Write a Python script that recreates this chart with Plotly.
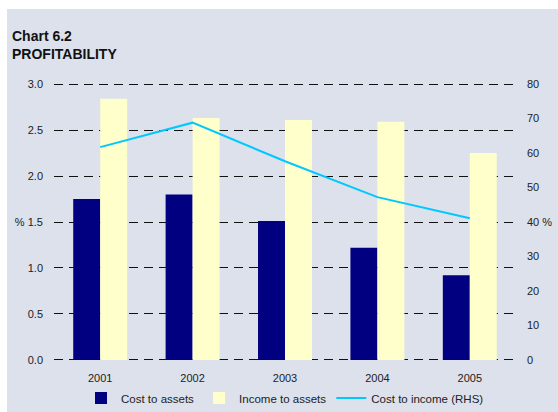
import plotly.graph_objects as go

# Profitability indicators by year
years = ["2001", "2002", "2003", "2004", "2005"]
cost_to_assets = [1.75, 1.80, 1.51, 1.22, 0.92]      # % (LHS)
income_to_assets = [2.84, 2.63, 2.61, 2.59, 2.25]    # % (LHS)
cost_to_income = [61.7, 68.8, 57.6, 47.2, 41.1]      # % (RHS)

left_ticks = [0, 0.5, 1.0, 1.5, 2.0, 2.5, 3.0]
left_labels = ["0.0", "0.5", "1.0", "% 1.5", "2.0", "2.5", "3.0"]
right_ticks = [0, 10, 20, 30, 40, 50, 60, 70, 80]
right_labels = ["0", "10", "20", "30", "40 %", "50", "60", "70", "80"]

W, H = 558, 412
ML, MR, MT, MB = 54, 42, 82, 50
PW, PH = W - ML - MR, H - MT - MB

BG = "#DCE1EC"
FONT = "Liberation Sans, Arial, sans-serif"

# padding so the gridlines at 0 and 3 sit inside the plot area
EPS = 0.022
left_range = [-EPS, 3 + EPS]
right_range = [-EPS * 80 / 3, 80 + EPS * 80 / 3]

fig = go.Figure()
fig.add_trace(go.Bar(x=years, y=cost_to_assets, name="Cost to assets",
                     marker=dict(color="#000080", line=dict(width=0))))
fig.add_trace(go.Bar(x=years, y=income_to_assets, name="Income to assets",
                     marker=dict(color="#FFFFCC", line=dict(width=0))))
fig.add_trace(go.Scatter(x=years, y=cost_to_income, name="Cost to income (RHS)",
                         mode="lines", yaxis="y2",
                         line=dict(color="#00C8FF", width=2)))

def px_x(p):
    return (p - ML) / PW

def px_y(p):
    return (H - MB - p) / PH

fig.update_layout(
    width=W, height=H,
    margin=dict(l=ML, r=MR, t=MT, b=MB, pad=0, autoexpand=False),
    paper_bgcolor="white",
    plot_bgcolor=BG,
    font=dict(family=FONT, size=11, color="#222222"),
    barmode="group", bargap=0.416, bargroupgap=0,
    showlegend=True,
    legend=dict(orientation="h", x=0.5, xanchor="center", xref="paper",
                y=1 - 398 / H, yanchor="middle", yref="container",
                bgcolor="rgba(0,0,0,0)", font=dict(size=11.5),
                itemwidth=30, tracegroupgap=0),
    xaxis=dict(showgrid=False, zeroline=False, showline=False, ticks="",
               ticklabelstandoff=8),
    yaxis=dict(range=left_range, tickvals=left_ticks, ticktext=left_labels,
               showgrid=True, gridcolor="#111111", gridwidth=1,
               griddash="9px,6px", zeroline=False, showline=False,
               ticks="", ticklabelstandoff=10),
    yaxis2=dict(range=right_range, tickvals=right_ticks, ticktext=right_labels,
                overlaying="y", side="right", showgrid=False,
                zeroline=False, showline=False, ticks="",
                ticklabelstandoff=10),
    annotations=[dict(text="<b>Chart 6.2<br>PROFITABILITY</b>",
                      xref="paper", yref="paper", x=px_x(10), y=px_y(26),
                      xanchor="left", yanchor="top", align="left",
                      showarrow=False,
                      font=dict(family=FONT, size=14, color="#111111"))],
    shapes=[dict(type="rect", xref="paper", yref="paper", layer="below",
                 x0=px_x(7), x1=px_x(W + 2), y0=px_y(H + 2), y1=px_y(9),
                 fillcolor=BG, line=dict(width=0))],
)

fig.write_html("out.html")
